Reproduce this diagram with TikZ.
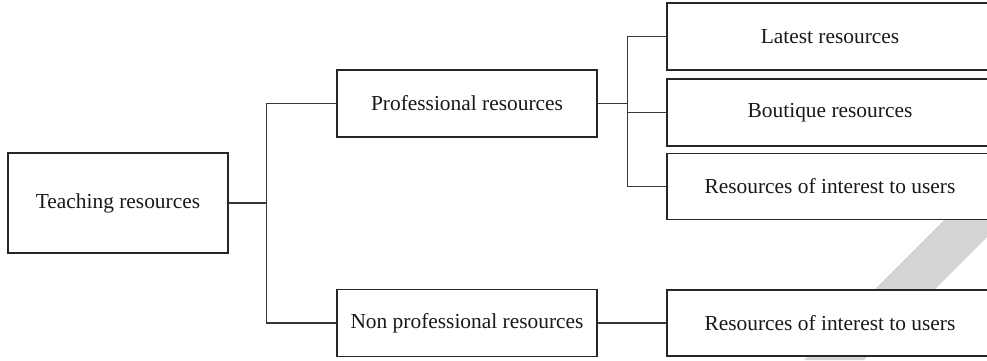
\documentclass[tikz,border=0pt]{standalone}
\usepackage{fontspec}
\setmainfont{Liberation Serif}
\begin{document}
\begin{tikzpicture}[x=1pt,y=-1pt,
  box/.style={draw=black!85,line width=1.4pt,fill=white,inner sep=0pt,
    font=\fontsize{21.4}{25}\selectfont,text=black!90},
  conn/.style={draw=black!78,line width=1.4pt},
  wmstripe/.style={fill=black!17,draw=none}]
\useasboundingbox (0,0) rectangle (987,360);
\clip (0,0) rectangle (987,360);
\fill[wmstripe] (804,360) -- (864,360) -- (1074,150) -- (1014,150) -- cycle;
\node[box,minimum width=220pt,minimum height=100pt] (teach) at (118,203) {Teaching resources};
\node[box,minimum width=260pt,minimum height=67pt] (prof) at (467,103.5) {Professional resources};
\node[box,minimum width=260pt,minimum height=67pt] (nonprof) at (467,323) {Non professional resources};
\node[box,minimum width=326pt,minimum height=67pt] (latest) at (830,36.5) {Latest resources};
\node[box,minimum width=326pt,minimum height=67pt] (bout) at (830,112.5) {Boutique resources};
\node[box,minimum width=326pt,minimum height=66pt] (resA) at (830,186.5) {Resources of interest to users};
\node[box,minimum width=326pt,minimum height=66pt] (resB) at (830,323) {Resources of interest to users};
\path (prof.west) ++(-70,0) coordinate (tr1);
\path (prof.east) ++(30,0) coordinate (tr2);
\draw[conn] (teach.east) -- (teach.east -| tr1);
\draw[conn] (prof.west) -- (tr1) |- (nonprof.west);
\draw[conn] (prof.east) -- (tr2);
\draw[conn] (latest.west) -- (latest.west -| tr2) -- (tr2 |- resA.west) -- (resA.west);
\draw[conn] (bout.west) -- (bout.west -| tr2);
\draw[conn] (nonprof.east) -- (resB.west);
\end{tikzpicture}
\end{document}
